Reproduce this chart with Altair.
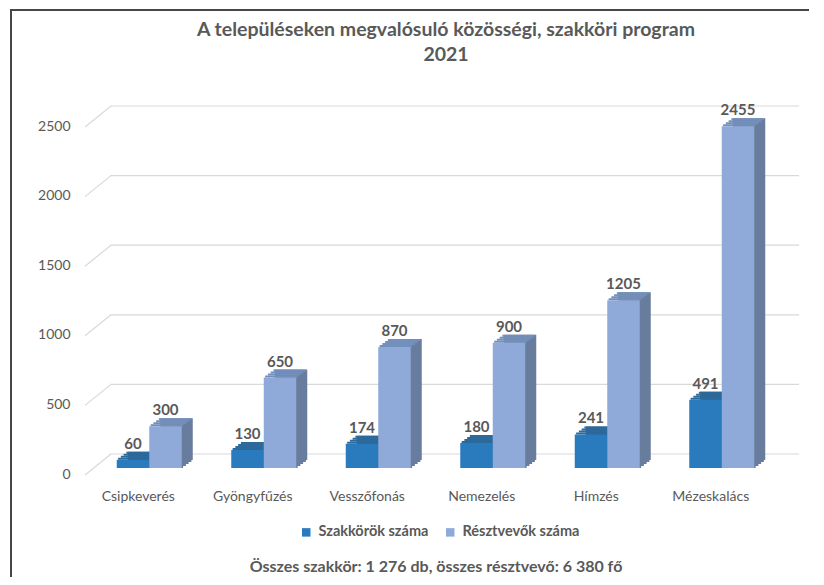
import altair as alt
import pandas as pd

categories = ["Csipkeverés", "Gyöngyfűzés", "Vesszőfonás", "Nemezelés", "Hímzés", "Mézeskalács"]
series = ["Szakkörök száma", "Résztvevők száma"]
szakkorok = [60, 130, 174, 180, 241, 491]
resztvevok = [300, 650, 870, 900, 1205, 2455]
y_ticks = [0, 500, 1000, 1500, 2000, 2500]
title_line1 = "A településeken megvalósuló közösségi, szakköri program"
title_line2 = "2021"
footer = "Összes szakkör: 1 276 db, összes résztvevő: 6 380 fő"

df = pd.DataFrame({
    "category": categories * 2,
    "series": [series[0]] * len(categories) + [series[1]] * len(categories),
    "value": szakkorok + resztvevok,
})
grid_df = pd.DataFrame({"value": y_ticks})
one = pd.DataFrame({"a": [0]})

FONT = "Lato"
TXT = "#595959"
W, H = 687, 348
BW = 32.5
DX, DY = 11, 8
STEPS = 4

front_cols = ["#2A7BBD", "#8FAAD8"]
top_cols = ["#2D6A9C", "#7390BC"]
side_cols = ["#2A5F8C", "#687D9D"]

xaxis = alt.Axis(title=footer, labelFont=FONT, labelFontSize=14, labelColor=TXT,
                 labelPadding=21, labelOffset=-11, labelAngle=0, ticks=False, domain=False,
                 grid=False, titleFont=FONT, titleFontSize=16, titleFontWeight="bold",
                 titleColor=TXT, titleY=98, titleBaseline="middle")
xscale = alt.Scale(paddingInner=0, paddingOuter=0)
xenc = alt.X("category:N", sort=categories, scale=xscale, axis=xaxis)

yscale = alt.Scale(domain=[0, 2500], nice=False, zero=True)
yaxis = alt.Axis(values=y_ticks, format="d", title=None, ticks=False, domain=False, grid=False,
                 labelPadding=22, labelOffset=6, labelFont=FONT, labelFontSize=14,
                 labelColor=TXT)
yenc = alt.Y("value:Q", scale=yscale, axis=yaxis)

color_enc = alt.Color("series:N", scale=alt.Scale(domain=series, range=front_cols),
                      legend=alt.Legend(title=None, orient="none", legendX=207, legendY=405,
                                        direction="horizontal", symbolType="square", symbolSize=72,
                                        symbolStrokeWidth=0, labelFont=FONT, labelFontSize=14.5,
                                        labelFontWeight="bold", labelColor=TXT, columnPadding=14,
                                        labelOffset=5, padding=0))

# gridlines (3D floor/back wall look)
grid_back = alt.Chart(grid_df).mark_rule(color="#D9D9D9", strokeWidth=1.2, yOffset=-14).encode(
    x=alt.value(18), x2=alt.value(707), y=yenc)
grid_diag = alt.Chart(grid_df).mark_rule(color="#D9D9D9", strokeWidth=1.2, yOffset=7, y2Offset=-14).encode(
    x=alt.value(-7), x2=alt.value(19), y=yenc, y2=alt.Y2("value:Q"))

layers = [grid_back, grid_diag]
offsets = [-BW / 2, BW / 2]
sh = DY / STEPS
for i, s in enumerate(series):
    base = alt.Chart(df).transform_filter(alt.datum.series == s)
    # side face (depth), main part
    layers.append(base.mark_bar(width=BW, xOffset=offsets[i] + DX, yOffset=-DY, y2Offset=-DY,
                                color=side_cols[i]).encode(x=xenc, y=yenc, y2=alt.datum(0)))
    for k in range(STEPS):
        shift = DX * (2 * k + 1) / (2 * STEPS)
        # slanted bottom of side face
        layers.append(base.mark_bar(width=BW, xOffset=offsets[i] + shift,
                                    yOffset=-(k + 1) * sh, y2Offset=-k * sh,
                                    color=side_cols[i]).encode(
            x=xenc, y=alt.Y("zero:Q", scale=yscale, axis=yaxis), y2=alt.datum(0)
        ).transform_calculate(zero="0"))
        # top face, slanted
        layers.append(base.mark_bar(width=BW, xOffset=offsets[i] + shift,
                                    yOffset=-(k + 1) * sh, y2Offset=-k * sh,
                                    color=top_cols[i]).encode(
            x=xenc, y=yenc, y2=alt.Y2("value:Q")))

for i, s in enumerate(series):
    base = alt.Chart(df).transform_filter(alt.datum.series == s)
    front = base.mark_bar(width=BW, xOffset=offsets[i]).encode(
        x=xenc, y=yenc, y2=alt.datum(0), color=color_enc)
    label = base.mark_text(xOffset=offsets[i], dy=-16, font=FONT, fontSize=15, fontWeight="bold",
                           color=TXT, align="center", baseline="middle").encode(
        x=xenc, y=yenc, text=alt.Text("value:Q"))
    layers += [front, label]

# chart title (two centred lines)
title_a = alt.Chart(one).mark_text(font=FONT, fontSize=19.5, fontWeight="bold", color=TXT,
                                   align="center", baseline="middle").encode(
    x=alt.value(354), y=alt.value(-90), text=alt.value(title_line1))
title_b = alt.Chart(one).mark_text(font=FONT, fontSize=19.5, fontWeight="bold", color=TXT,
                                   align="center", baseline="middle").encode(
    x=alt.value(354), y=alt.value(-65), text=alt.value(title_line2))

# chart border (left and top edges)
border_left = alt.Chart(one).mark_rule(color="#474747", strokeWidth=2).encode(
    x=alt.value(-81), y=alt.value(-110), y2=alt.value(460))
border_top = alt.Chart(one).mark_rule(color="#474747", strokeWidth=2).encode(
    x=alt.value(-82), x2=alt.value(730), y=alt.value(-110))
layers += [title_a, title_b, border_left, border_top]

chart = alt.layer(*layers).properties(
    width=W, height=H,
    background="white",
    autosize=alt.AutoSizeParams(type="none"),
    padding={"left": 84, "top": 112, "right": 30, "bottom": 109},
).configure_view(stroke=None)

chart.save("out.html", embed_options={"renderer": "svg", "actions": False})
